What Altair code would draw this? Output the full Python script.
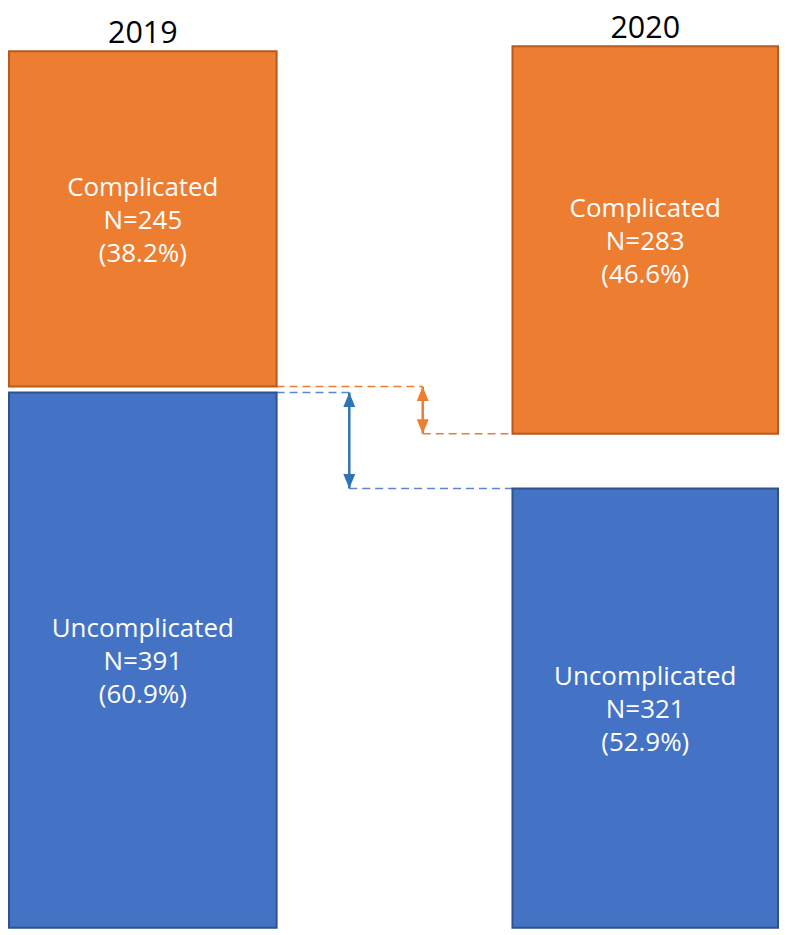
import altair as alt
import pandas as pd

# ---- data ----
years = ["2019", "2020"]
uncomplicated_n = [391, 321]
complicated_n = [245, 283]
uncomplicated_pct = ["60.9%", "52.9%"]
complicated_pct = ["38.2%", "46.6%"]

# ---- layout constants (not data) ----
X_LEFT = [0.0, 0.6547]
X_RIGHT = [0.348, 1.0]
GAP = [4.4, 40.0]          # visual gap between the two boxes of each year
ARROW_X = {"Complicated": 0.538, "Uncomplicated": 0.4425}
W, H = 771, 914
YMAX = 666

FILL = {"Complicated": "#ED7D31", "Uncomplicated": "#4472C4"}
EDGE = {"Complicated": "#B85A1E", "Uncomplicated": "#2F528F"}
DASH = {"Complicated": "#ED7D31", "Uncomplicated": "#5B86D0"}
ARROW = {"Complicated": "#ED7D31", "Uncomplicated": "#2E75B6"}

rows = []
for i, yr in enumerate(years):
    u0, u1 = 0.0, float(uncomplicated_n[i])
    c0 = uncomplicated_n[i] + GAP[i]
    c1 = c0 + complicated_n[i]
    rows.append(dict(year=yr, category="Uncomplicated", x0=X_LEFT[i], x1=X_RIGHT[i],
                     y0=u0, y1=u1, xm=(X_LEFT[i] + X_RIGHT[i]) / 2, ym=(u0 + u1) / 2,
                     label=f"Uncomplicated\nN={uncomplicated_n[i]}\n({uncomplicated_pct[i]})"))
    rows.append(dict(year=yr, category="Complicated", x0=X_LEFT[i], x1=X_RIGHT[i],
                     y0=c0, y1=c1, xm=(X_LEFT[i] + X_RIGHT[i]) / 2, ym=(c0 + c1) / 2,
                     label=f"Complicated\nN={complicated_n[i]}\n({complicated_pct[i]})"))
bars = pd.DataFrame(rows)
bars["fillc"] = bars["category"].map(FILL)
bars["edgec"] = bars["category"].map(EDGE)
tops = bars[bars.category == "Complicated"][["year", "xm", "y1"]].reset_index(drop=True)

b = bars.set_index(["year", "category"])
c19_bottom = float(b.loc[("2019", "Complicated"), "y0"])
c20_bottom = float(b.loc[("2020", "Complicated"), "y0"])
u19_top = float(b.loc[("2019", "Uncomplicated"), "y1"])
u20_top = float(b.loc[("2020", "Uncomplicated"), "y1"])

dashes = pd.DataFrame([
    dict(category="Complicated", x0=X_RIGHT[0], x1=ARROW_X["Complicated"], y=c19_bottom),
    dict(category="Complicated", x0=ARROW_X["Complicated"], x1=X_LEFT[1], y=c20_bottom),
    dict(category="Uncomplicated", x0=X_RIGHT[0], x1=ARROW_X["Uncomplicated"], y=u19_top),
    dict(category="Uncomplicated", x0=ARROW_X["Uncomplicated"], x1=X_LEFT[1], y=u20_top),
])
dashes["col"] = dashes["category"].map(DASH)
arrows = pd.DataFrame([
    dict(category="Complicated", x=ARROW_X["Complicated"], ytop=c19_bottom, ybot=c20_bottom),
    dict(category="Uncomplicated", x=ARROW_X["Uncomplicated"], ytop=u19_top, ybot=u20_top),
])
arrows["col"] = arrows["category"].map(ARROW)

xs = alt.Scale(domain=[0, 1], nice=False, zero=False)
ys = alt.Scale(domain=[0, YMAX], nice=False)

rects = alt.Chart(bars).mark_rect(strokeWidth=2).encode(
    x=alt.X("x0:Q", scale=xs, axis=None), x2="x1:Q",
    y=alt.Y("y0:Q", scale=ys, axis=None), y2="y1:Q",
    fill=alt.Fill("fillc:N", scale=None),
    stroke=alt.Stroke("edgec:N", scale=None),
)

labels = alt.Chart(bars).mark_text(
    lineBreak="\n", font="Open Sans", fontSize=26, fontWeight=500, lineHeight=33,
    color="white", align="center", baseline="middle", dy=-31,
).encode(
    x=alt.X("xm:Q", scale=xs, axis=None), y=alt.Y("ym:Q", scale=ys, axis=None), text="label:N"
)

titles = alt.Chart(tops).mark_text(
    font="Open Sans", fontSize=30.5, color="black", align="center",
    baseline="alphabetic", dy=-8,
).encode(
    x=alt.X("xm:Q", scale=xs, axis=None), y=alt.Y("y1:Q", scale=ys, axis=None), text="year:N"
)

dash_lines = alt.Chart(dashes).mark_rule(strokeDash=[8, 5], strokeWidth=1.5).encode(
    x=alt.X("x0:Q", scale=xs, axis=None), x2="x1:Q", y=alt.Y("y:Q", scale=ys, axis=None),
    color=alt.Color("col:N", scale=None),
)

arrow_shafts = alt.Chart(arrows).mark_rule(strokeWidth=2.5).encode(
    x=alt.X("x:Q", scale=xs, axis=None), y=alt.Y("ytop:Q", scale=ys, axis=None), y2="ybot:Q",
    color=alt.Color("col:N", scale=None),
)

head_up = alt.Chart(arrows).mark_point(
    shape="M0,0L-0.6,1.45L0.6,1.45Z", filled=True, size=400, opacity=1
).encode(
    x=alt.X("x:Q", scale=xs, axis=None), y=alt.Y("ytop:Q", scale=ys, axis=None),
    color=alt.Color("col:N", scale=None),
)
head_down = alt.Chart(arrows).mark_point(
    shape="M0,0L-0.6,-1.45L0.6,-1.45Z", filled=True, size=400, opacity=1
).encode(
    x=alt.X("x:Q", scale=xs, axis=None), y=alt.Y("ybot:Q", scale=ys, axis=None),
    color=alt.Color("col:N", scale=None),
)

chart = alt.layer(
    dash_lines, arrow_shafts, head_up, head_down, rects, labels, titles
).properties(
    width=W, height=H,
    padding={"top": 5, "left": 0, "right": 0, "bottom": 0},
).configure_view(stroke=None)

chart.save("out.html", embed_options={"renderer": "svg", "actions": False})
